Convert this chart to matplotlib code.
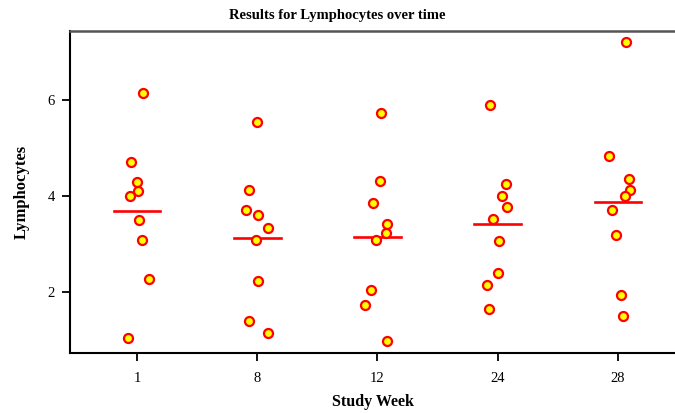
import numpy as np
import matplotlib

matplotlib.use("Agg")
import matplotlib.pyplot as plt

plt.rcParams["font.family"] = ["Liberation Serif", "DejaVu Serif"]

weeks = ["1", "8", "12", "24", "28"]

# lymphocyte values per study week
week1 = [6.15, 4.70, 4.30, 4.10, 4.00, 3.50, 3.08, 2.27, 1.04]
week8 = [5.54, 4.13, 3.71, 3.60, 3.33, 3.08, 2.23, 1.40, 1.15]
week12 = [5.73, 4.31, 3.85, 3.42, 3.23, 3.08, 2.04, 1.73, 0.98]
week24 = [5.90, 4.25, 4.00, 3.77, 3.52, 3.06, 2.40, 2.15, 1.65]
week28 = [7.20, 4.83, 4.35, 4.13, 4.00, 3.71, 3.19, 1.94, 1.50]

# horizontal jitter (category units) as seen in the picture
jitter1 = [0.05, -0.05, 0.00, 0.01, -0.06, 0.02, 0.04, 0.10, -0.075]
jitter8 = [0.00, -0.07, -0.09, 0.01, 0.09, -0.01, 0.01, -0.07, 0.09]
jitter12 = [0.03, 0.025, -0.035, 0.08, 0.07, -0.01, -0.05, -0.10, 0.075]
jitter24 = [-0.065, 0.065, 0.035, 0.08, -0.04, 0.01, 0.00, -0.09, -0.075]
jitter28 = [0.065, -0.075, 0.09, 0.10, 0.06, -0.05, -0.015, 0.025, 0.04]

values = [week1, week8, week12, week24, week28]
jitters = [jitter1, jitter8, jitter12, jitter24, jitter28]

fig = plt.figure(figsize=(6.75, 4.13), dpi=100)
ax = fig.add_axes([0.1037, 0.1453, 0.8963, 0.7797])

for i, (vals, jit) in enumerate(zip(values, jitters)):
    x = i + np.array(jit)
    ax.plot(x, vals, "o", ms=6.5, mfc="#ffff00", mec="#ff0000", mew=1.6,
            linestyle="none", zorder=3)
    m = np.mean(vals)
    ax.plot([i - 0.195, i + 0.195], [m, m], color="#ff0000", lw=1.9, zorder=2)

ax.set_xlim(-0.557, 4.474)
ax.set_ylim(0.73, 7.44)
ax.set_xticks(range(len(weeks)))
ax.set_xticklabels(weeks)
ax.set_yticks([2, 4, 6])

ax.spines["right"].set_visible(False)
ax.spines["left"].set_linewidth(1.5)
ax.spines["bottom"].set_linewidth(1.5)
ax.spines["top"].set_linewidth(1.8)
ax.spines["top"].set_color("#555555")
ax.tick_params(direction="out", length=6, width=1.3, labelsize=10.5)
ax.tick_params(axis="x", pad=8)
ax.tick_params(axis="y", pad=5)

fig.text(0.5, 0.962, "Results for Lymphocytes over time", ha="center",
         va="center", fontsize=10.5, fontweight="bold")
ax.set_xlabel("Study Week", fontsize=11.5, fontweight="bold", labelpad=6)
ax.set_ylabel("Lymphocytes", fontsize=12, fontweight="bold", labelpad=13)

fig.savefig("out.png", dpi=100)
